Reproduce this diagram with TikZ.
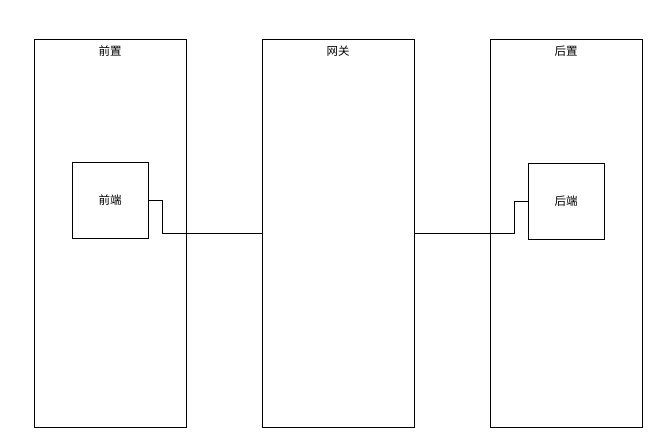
\documentclass[tikz,border=0pt]{standalone}
\usepackage{fontspec}
\newfontfamily\cjk{Noto Sans CJK SC}
\begin{document}
\begin{tikzpicture}[x=1pt,y=-1pt,
  every node/.style={font=\cjk\fontsize{11.5}{13}\selectfont, inner sep=0pt},
  lane/.style={draw, line width=0.9pt},
  inbox/.style={draw, line width=0.9pt},
  conn/.style={draw, line width=0.9pt}]
\useasboundingbox (0,0) rectangle (662,446);
\draw[lane] (34,39) rectangle (186,427);
\draw[lane] (262,39) rectangle (414,427);
\draw[lane] (490,39) rectangle (642,427);
\node (t1) at (110,51) {前置};
\node (t2) at (338,51) {网关};
\node (t3) at (566,51) {后置};
\node[inbox, minimum width=76pt, minimum height=76pt] (fe) at (110,200) {前端};
\node[inbox, minimum width=76pt, minimum height=76pt] (be) at (566,201) {后端};
\coordinate (gl) at (262,233);
\coordinate (gr) at (414,233);
\draw[conn] (fe.east) -- (162,200) -- (162,233) -- (gl);
\draw[conn] (gr) -- (514,233) -- (514,201) -- (be.west);
\end{tikzpicture}
\end{document}
